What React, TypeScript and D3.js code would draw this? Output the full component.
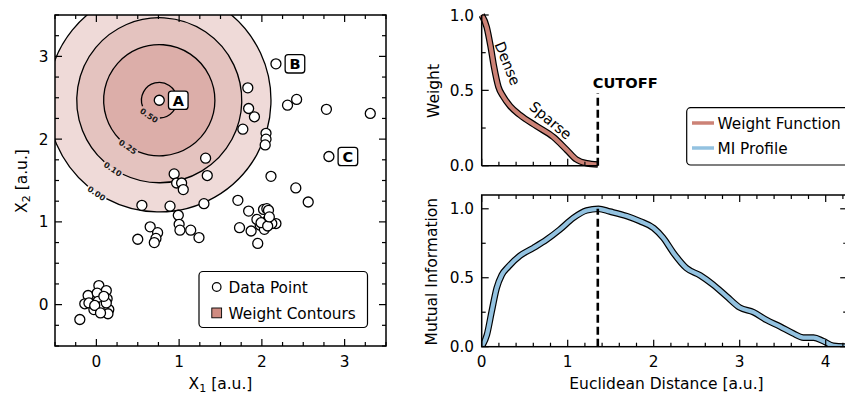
import * as d3 from "d3";

const FONT = "DejaVu Sans";

// scatter data
const pointX = [
  0.76, 2.17, 2.81,
  1.83, 1.84, 1.91, 1.77, 2.05, 2.05, 2.04, 2.31, 2.42, 2.78, 3.31, 2.11, 2.41, 2.56, 1.71,
  1.32, 1.34, 0.94, 0.97, 1.03, 1.05, 0.55, 0.89, 1.3, 0.99, 1.0, 1.01, 1.14, 1.24,
  0.65, 0.74, 0.72, 0.7, 0.5,
  1.84, 2.02, 2.06, 2.08, 1.73, 1.87, 1.95, 2.06, 2.17, 1.98, 2.03, 1.94, 2.12, 1.99, 2.07, 2.09,
  0.03, 0.12, -0.1, 0.01, -0.14, -0.09, 0.02, 0.13, -0.03, 0.03, 0.07, 0.15, -0.02, 0.14, -0.2, 0.12, 0.05, 0.09,
];
const pointY = [
  2.47, 2.91, 1.79,
  2.62, 2.37, 2.27, 2.12, 2.07, 2.0, 1.93, 2.41, 2.48, 2.36, 2.31, 1.55, 1.41, 1.24, 1.26,
  1.77, 1.56, 1.58, 1.47, 1.47, 1.39, 1.2, 1.19, 1.22, 1.08, 0.97, 0.9, 0.9, 0.81,
  0.94, 0.87, 0.8, 0.75, 0.79,
  1.13, 1.15, 1.16, 1.14, 0.93, 0.89, 0.74, 1.01, 0.98, 0.96, 0.91, 1.03, 0.98, 0.99, 0.95, 1.06,
  0.23, 0.17, 0.11, 0.14, 0.01, 0.02, 0.04, 0.07, -0.06, -0.03, -0.02, -0.06, -0.01, -0.11, -0.18, 0.02, -0.1, 0.1,
];
const labelNames = ["A", "B", "C"];
const labelIndex = [0, 1, 2];

// weight function
const cutoff = 1.35;
const cutoffMarkTop = 0.48;
const weightDist = [0, 0.058, 0.104, 0.143, 0.194, 0.252, 0.33, 0.446, 0.64, 0.834, 0.99, 1.1, 1.22, 1.35];
const weightVal = [1.0, 0.92, 0.79, 0.657, 0.524, 0.458, 0.396, 0.336, 0.262, 0.19, 0.104, 0.042, 0.016, 0.008];
const contourLevels = [0.0, 0.1, 0.25, 0.5];
const contourLabels = ["0.00", "0.10", "0.25", "0.50"];
const contourFills = ["#efdad8", "#e4c3bf", "#dcaea9", "#d9a6a0"];

// MI profile
const miDist = [0, 0.06, 0.116, 0.174, 0.233, 0.31, 0.446, 0.6, 0.756, 0.91, 1.066, 1.22, 1.357, 1.49, 1.686, 1.84, 2.0, 2.11, 2.23, 2.38, 2.54, 2.69, 2.85, 3.0, 3.16, 3.31, 3.47, 3.62, 3.74, 3.86, 3.97, 4.09, 4.25];
const miVal = [0, 0.085, 0.255, 0.425, 0.52, 0.58, 0.66, 0.716, 0.777, 0.85, 0.934, 0.988, 1.0, 0.98, 0.947, 0.91, 0.86, 0.79, 0.68, 0.57, 0.517, 0.45, 0.364, 0.284, 0.25, 0.194, 0.146, 0.097, 0.066, 0.066, 0.041, 0.007, 0];
const miPeak = 1.0;

const WEIGHT_COLOR = "#cc8276";
const MI_COLOR = "#93c2e0";

const xL = d3.scaleLinear().domain([-0.5, 3.5]).range([55, 386]);
const yL = d3.scaleLinear().domain([-0.5, 3.5]).range([346, 15]);
const xR = d3.scaleLinear().domain([0, 4.25]).range([481.7, 847.2]);
const yT = d3.scaleLinear().domain([0, 1]).range([165.7, 15]);
const yB = d3.scaleLinear().domain([0, 1.1]).range([346.7, 195]);

function radiusFor(level: number) {
  if (level <= 0) return cutoff;
  for (let i = 0; i < weightVal.length - 1; i++) {
    if (weightVal[i] >= level && weightVal[i + 1] <= level) {
      const t = (weightVal[i] - level) / (weightVal[i] - weightVal[i + 1]);
      return weightDist[i] + t * (weightDist[i + 1] - weightDist[i]);
    }
  }
  return 0;
}

const steps = (a: number, b: number, s: number) =>
  d3.range(Math.round((b - a) / s) + 1).map((i) => Math.round((a + i * s) * 1000) / 1000);

type Side = "bottom" | "top" | "left" | "right";

function Ticks({ scale, values, side, pos, len }: { scale: any; values: number[]; side: Side; pos: number; len: number }) {
  return (
    <g stroke="#000" strokeWidth={1.2}>
      {values.map((v, i) => {
        const p = scale(v);
        if (side === "bottom") return <line key={i} x1={p} x2={p} y1={pos} y2={pos - len} />;
        if (side === "top") return <line key={i} x1={p} x2={p} y1={pos} y2={pos + len} />;
        if (side === "left") return <line key={i} y1={p} y2={p} x1={pos} x2={pos + len} />;
        return <line key={i} y1={p} y2={p} x1={pos} x2={pos - len} />;
      })}
    </g>
  );
}

export default function App() {
  const [ax, ay] = [pointX[0], pointY[0]];
  const cx = xL(ax);
  const cy = yL(ay);
  const pxPerUnit = xL(1) - xL(0);
  const theta = (124 * Math.PI) / 180;

  const rings = contourLevels.map((lv, i) => {
    const r = radiusFor(lv) * pxPerUnit;
    const half = (contourLabels[i].length * 4.6 / 2 + 2) / r;
    const p = d3.path();
    p.arc(cx, cy, r, theta + half, theta - half + Math.PI * 2);
    return { r, arc: p.toString(), lx: cx + (r + 1) * Math.cos(theta), ly: cy + (r + 1) * Math.sin(theta) };
  });

  const weightLine = d3
    .line<number>()
    .x((_, i) => xR(weightDist[i]))
    .y((d) => yT(d))
    .curve(d3.curveMonotoneX)(weightVal) ?? "";
  const miLine = d3
    .line<number>()
    .x((_, i) => xR(miDist[i]))
    .y((d) => yB(d))
    .curve(d3.curveMonotoneX)(miVal) ?? "";

  const lMajor = [0, 1, 2, 3];
  const lMinor = steps(-0.5, 3.5, 0.25).filter((v) => !lMajor.includes(v));
  const rxMajor = [0, 1, 2, 3, 4];
  const rxMinor = steps(0, 4.2, 0.2).filter((v) => !rxMajor.includes(v));
  const tMinorX = steps(0, 1.2, 0.2).filter((v) => v !== 0 && v !== 1);
  const yMajor = [0, 0.5, 1];
  const yMinor = [0.25, 0.75];
  const fmt = d3.format(".1f");

  return (
    <svg width={845} height={396} style={{ position: "absolute", left: 0, top: 0 }} fontFamily={FONT}>
      <defs>
        <clipPath id="clipL">
          <rect x={55} y={15} width={331} height={331} />
        </clipPath>
        <clipPath id="clipB">
          <rect x={481.7} y={195} width={365.5} height={151.7} />
        </clipPath>
      </defs>
      <rect width={845} height={396} fill="#fff" />

      {/* left panel: contours */}
      <g clipPath="url(#clipL)">
        {rings.map((rg, i) => (
          <circle key={i} cx={cx} cy={cy} r={rg.r} fill={contourFills[i]} />
        ))}
        {rings.map((rg, i) => (
          <path key={i} d={rg.arc} fill="none" stroke="#000" strokeWidth={1.3} />
        ))}
        {rings.map((rg, i) => (
          <text
            key={i}
            x={rg.lx}
            y={rg.ly}
            fontSize={8}
            fontWeight="bold"
            fill="#1a1a1a"
            textAnchor="middle"
            dominantBaseline="central"
            transform={`rotate(34 ${rg.lx} ${rg.ly})`}
          >
            {contourLabels[i]}
          </text>
        ))}
        {pointX.map((x, i) => (
          <circle key={i} cx={xL(x)} cy={yL(pointY[i])} r={5} fill="#fff" stroke="#000" strokeWidth={1.3} />
        ))}
      </g>
      {labelNames.map((nm, k) => {
        const i = labelIndex[k];
        const bx = xL(pointX[i]) + 19;
        const by = yL(pointY[i]);
        return (
          <g key={nm}>
            <rect x={bx - 9.8} y={by - 9.2} width={19.6} height={18.4} rx={3} fill="#fff" stroke="#000" strokeWidth={1.3} />
            <text x={bx} y={by + 5.3} fontSize={14.5} fontWeight="bold" textAnchor="middle">
              {nm}
            </text>
          </g>
        );
      })}
      <rect x={55} y={15} width={331} height={331} fill="none" stroke="#000" strokeWidth={1.5} />
      <Ticks scale={xL} values={lMajor} side="bottom" pos={346} len={7} />
      <Ticks scale={xL} values={lMinor} side="bottom" pos={346} len={4} />
      <Ticks scale={xL} values={lMajor} side="top" pos={15} len={7} />
      <Ticks scale={xL} values={lMinor} side="top" pos={15} len={4} />
      <Ticks scale={yL} values={lMajor} side="left" pos={55} len={7} />
      <Ticks scale={yL} values={lMinor} side="left" pos={55} len={4} />
      <Ticks scale={yL} values={lMajor} side="right" pos={386} len={7} />
      <Ticks scale={yL} values={lMinor} side="right" pos={386} len={4} />
      {lMajor.map((v) => (
        <text key={v} x={xL(v)} y={366.5} fontSize={15.3} textAnchor="middle">
          {v}
        </text>
      ))}
      {lMajor.map((v) => (
        <text key={v} x={48.5} y={yL(v) + 5.5} fontSize={15.3} textAnchor="end">
          {v}
        </text>
      ))}
      <text x={220.5} y={389} fontSize={15.5} textAnchor="middle">
        X<tspan fontSize={11} dy={3}>1</tspan>
        <tspan dy={-3}> [a.u.]</tspan>
      </text>
      <text transform="translate(26.5,181) rotate(-90)" fontSize={15.5} textAnchor="middle">
        X<tspan fontSize={11} dy={3}>2</tspan>
        <tspan dy={-3}> [a.u.]</tspan>
      </text>

      {/* left legend */}
      <g>
        <rect x={199} y={271.5} width={168.5} height={56} rx={4} fill="#fff" fillOpacity={0.85} stroke="#000" strokeWidth={1.2} />
        <circle cx={216.7} cy={287} r={4.3} fill="#fff" stroke="#000" strokeWidth={1.2} />
        <text x={228.5} y={292.5} fontSize={15.3}>Data Point</text>
        <rect x={211.8} y={308} width={9.8} height={9.8} fill="#cf8b81" stroke="#000" strokeWidth={0.9} />
        <text x={228.5} y={318.5} fontSize={15.3}>Weight Contours</text>
      </g>

      {/* top right: weight function */}
      <path d={weightLine} fill="none" stroke="#000" strokeWidth={6.6} strokeLinejoin="round" />
      <path d={weightLine} fill="none" stroke={WEIGHT_COLOR} strokeWidth={4.2} strokeLinejoin="round" />
      <line x1={xR(cutoff)} x2={xR(cutoff)} y1={yT(0)} y2={yT(cutoffMarkTop)} stroke="#000" strokeWidth={2.6} strokeDasharray="8,4" />
      <text x={xR(cutoff) - 5} y={87.5} fontSize={14.6} fontWeight="bold">
        CUTOFF
      </text>
      <text transform="translate(507.5,63.5) rotate(68)" fontSize={14.5} textAnchor="middle" dominantBaseline="central">
        Dense
      </text>
      <text transform="translate(550.5,120.5) rotate(40)" fontSize={14.5} textAnchor="middle" dominantBaseline="central">
        Sparse
      </text>
      <line x1={xR(0)} x2={xR(0)} y1={yT(1)} y2={yT(0)} stroke="#000" strokeWidth={1.5} />
      <line x1={xR(0)} x2={xR(cutoff)} y1={yT(0)} y2={yT(0)} stroke="#000" strokeWidth={1.5} />
      <Ticks scale={yT} values={yMajor} side="left" pos={xR(0)} len={7} />
      <Ticks scale={yT} values={yMinor} side="left" pos={xR(0)} len={4} />
      <Ticks scale={xR} values={[0, 1]} side="bottom" pos={yT(0)} len={7} />
      <Ticks scale={xR} values={tMinorX} side="bottom" pos={yT(0)} len={4} />
      {yMajor.map((v) => (
        <text key={v} x={474} y={yT(v) + 5.5} fontSize={15.3} textAnchor="end">
          {fmt(v)}
        </text>
      ))}
      <text transform="translate(438.5,91) rotate(-90)" fontSize={15.5} textAnchor="middle">
        Weight
      </text>

      {/* right legend */}
      <g>
        <rect x={686.7} y={107.7} width={175} height={57.3} rx={4} fill="#fff" stroke="#000" strokeWidth={1.2} />
        <line x1={692} x2={714} y1={123} y2={123} stroke={WEIGHT_COLOR} strokeWidth={3.5} />
        <text x={717.5} y={128.5} fontSize={15.3}>Weight Function</text>
        <line x1={692} x2={714} y1={148} y2={148} stroke={MI_COLOR} strokeWidth={3.5} />
        <text x={717.5} y={153.5} fontSize={15.3}>MI Profile</text>
      </g>

      {/* bottom right: MI profile */}
      <g clipPath="url(#clipB)">
        <path d={miLine} fill="none" stroke="#000" strokeWidth={6.6} strokeLinejoin="round" />
        <path d={miLine} fill="none" stroke={MI_COLOR} strokeWidth={4.2} strokeLinejoin="round" />
      </g>
      <line x1={xR(cutoff)} x2={xR(cutoff)} y1={yB(0)} y2={yB(miPeak)} stroke="#000" strokeWidth={2.6} strokeDasharray="8,4" />
      <rect x={481.7} y={195} width={365.5} height={151.7} fill="none" stroke="#000" strokeWidth={1.5} />
      <Ticks scale={xR} values={rxMajor} side="bottom" pos={346.7} len={7} />
      <Ticks scale={xR} values={rxMinor} side="bottom" pos={346.7} len={4} />
      <Ticks scale={xR} values={rxMajor} side="top" pos={195} len={7} />
      <Ticks scale={xR} values={rxMinor} side="top" pos={195} len={4} />
      <Ticks scale={yB} values={yMajor} side="left" pos={481.7} len={7} />
      <Ticks scale={yB} values={yMinor} side="left" pos={481.7} len={4} />
      <Ticks scale={yB} values={yMajor} side="right" pos={847.2} len={7} />
      <Ticks scale={yB} values={yMinor} side="right" pos={847.2} len={4} />
      {rxMajor.map((v) => (
        <text key={v} x={xR(v)} y={366.5} fontSize={15.3} textAnchor="middle">
          {v}
        </text>
      ))}
      {yMajor.map((v) => (
        <text key={v} x={474} y={yB(v) + 5.5} fontSize={15.3} textAnchor="end">
          {fmt(v)}
        </text>
      ))}
      <text transform="translate(436.5,271.7) rotate(-90)" fontSize={15.5} textAnchor="middle">
        Mutual Information
      </text>
      <text x={666.5} y={389} fontSize={15.5} textAnchor="middle">
        Euclidean Distance [a.u.]
      </text>
    </svg>
  );
}
